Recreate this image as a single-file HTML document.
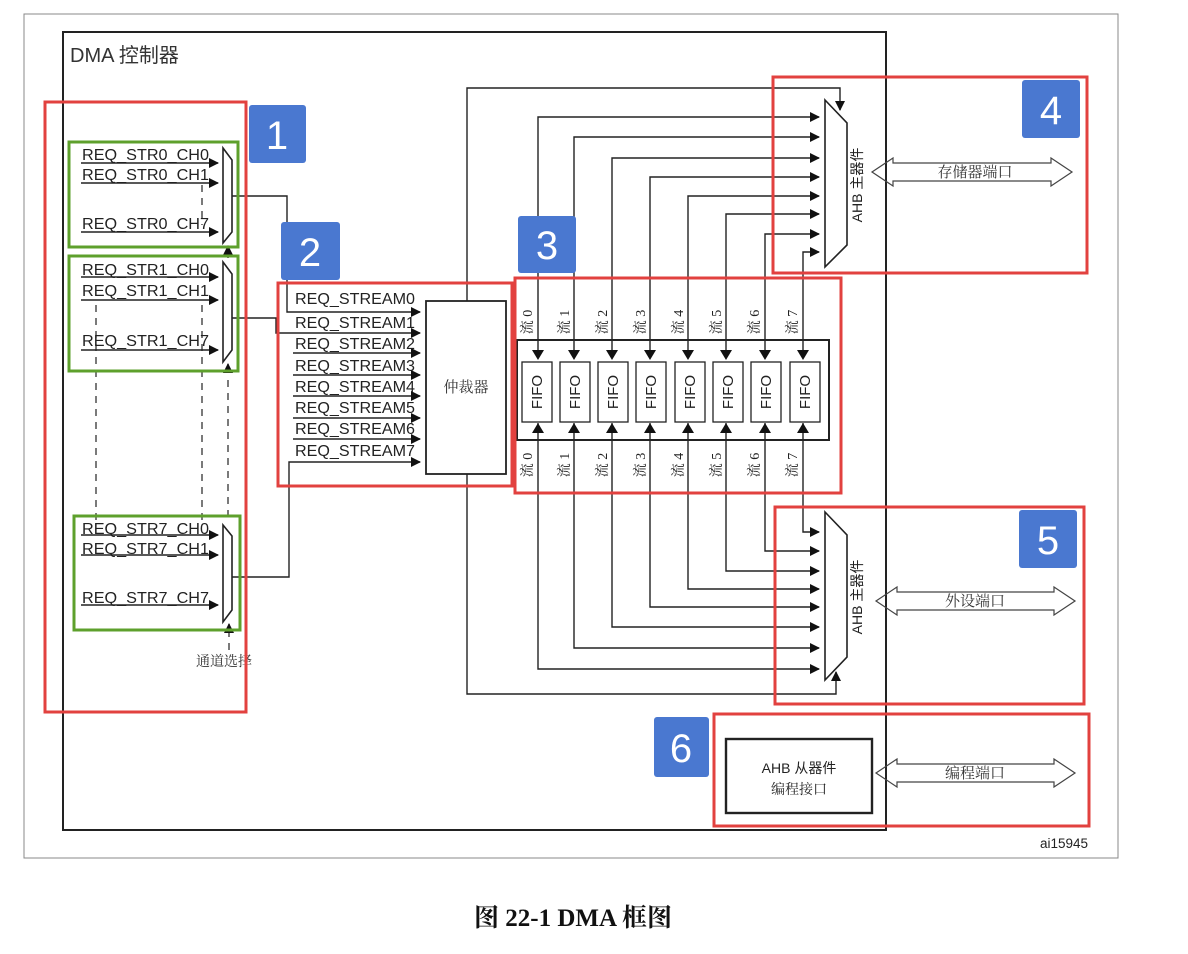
<!DOCTYPE html>
<html><head><meta charset="utf-8"><style>
html,body{margin:0;padding:0;background:#fff;}
svg{display:block;}
text{font-family:"Liberation Sans","Noto Sans CJK SC",sans-serif;}
.cn{font-family:"Liberation Serif","Noto Serif CJK SC",serif;}
</style></head><body>
<svg width="1188" height="954" viewBox="0 0 1188 954" xmlns="http://www.w3.org/2000/svg">
<defs>
<marker id="a" markerWidth="10" markerHeight="10" refX="9" refY="5" orient="auto" markerUnits="userSpaceOnUse"><path d="M0,0 L10,5 L0,10 z" fill="#111"/></marker>
</defs>
<rect x="24" y="14" width="1094" height="844" fill="none" stroke="#888" stroke-width="1"/>
<rect x="63" y="32" width="823" height="798" fill="none" stroke="#222" stroke-width="2"/>
<text x="70" y="62" font-size="20" fill="#333">DMA 控制器</text>

<g stroke="#222" stroke-width="1.4" fill="none">
<line x1="81" y1="163" x2="218" y2="163" marker-end="url(#a)"/>
<line x1="81" y1="183" x2="218" y2="183" marker-end="url(#a)"/>
<line x1="81" y1="232" x2="218" y2="232" marker-end="url(#a)"/>
<path d="M223,148 L232,160 L232,232 L223,243 z" stroke-width="1.6"/>
<polyline points="232,196 287,196 287,312 420,312" marker-end="url(#a)"/>
<line x1="81" y1="277" x2="218" y2="277" marker-end="url(#a)"/>
<line x1="81" y1="300" x2="218" y2="300" marker-end="url(#a)"/>
<line x1="81" y1="350" x2="218" y2="350" marker-end="url(#a)"/>
<path d="M223,262 L232,274 L232,350 L223,362 z" stroke-width="1.6"/>
<polyline points="232,318 276,318 276,333 420,333" marker-end="url(#a)"/>
<line x1="81" y1="535" x2="218" y2="535" marker-end="url(#a)"/>
<line x1="81" y1="555" x2="218" y2="555" marker-end="url(#a)"/>
<line x1="81" y1="605" x2="218" y2="605" marker-end="url(#a)"/>
<path d="M223,525 L232,536 L232,610 L223,622 z" stroke-width="1.6"/>
<polyline points="232,577 289,577 289,462 420,462" marker-end="url(#a)"/>
<g stroke-dasharray="7,6" stroke-width="1.2">
<line x1="202" y1="185" x2="202" y2="225"/>
<line x1="96" y1="305" x2="96" y2="520"/>
<line x1="202" y1="305" x2="202" y2="520"/>
<line x1="228" y1="380" x2="228" y2="520"/>
<line x1="229" y1="630" x2="229" y2="650"/>
</g>
<line x1="228" y1="258" x2="228" y2="246" marker-end="url(#a)"/>
<line x1="228" y1="372" x2="228" y2="364" marker-end="url(#a)"/>
<line x1="229" y1="632" x2="229" y2="624" marker-end="url(#a)"/>
<line x1="293" y1="353" x2="420" y2="353" marker-end="url(#a)"/>
<line x1="293" y1="375" x2="420" y2="375" marker-end="url(#a)"/>
<line x1="293" y1="396" x2="420" y2="396" marker-end="url(#a)"/>
<line x1="293" y1="418" x2="420" y2="418" marker-end="url(#a)"/>
<line x1="293" y1="439" x2="420" y2="439" marker-end="url(#a)"/>
<rect x="426" y="301" width="80" height="173" stroke-width="1.8"/>
<polyline points="467,301 467,88 840,88 840,110" marker-end="url(#a)"/>
<polyline points="467,474 467,694 836,694 836,672" marker-end="url(#a)"/>
<rect x="517" y="340" width="312" height="100" stroke-width="2"/>
<path d="M825,100 L847,123 L847,245 L825,267 z" stroke-width="1.6"/>
<path d="M825,512 L847,535 L847,657 L825,680 z" stroke-width="1.6"/>
<rect x="726" y="739" width="146" height="74" stroke-width="2.4"/>
</g>

<g stroke="#222" stroke-width="1.4" fill="none">
<polyline points="538,358 538,117 819,117" marker-end="url(#a)"/>
<polyline points="574,358 574,137 819,137" marker-end="url(#a)"/>
<polyline points="612,358 612,158 819,158" marker-end="url(#a)"/>
<polyline points="650,358 650,177 819,177" marker-end="url(#a)"/>
<polyline points="688,358 688,196 819,196" marker-end="url(#a)"/>
<polyline points="726,358 726,214 819,214" marker-end="url(#a)"/>
<polyline points="765,358 765,234 819,234" marker-end="url(#a)"/>
<polyline points="803,358 803,252 819,252" marker-end="url(#a)"/>
<polyline points="538,423 538,669 819,669" marker-end="url(#a)"/>
<polyline points="574,423 574,648 819,648" marker-end="url(#a)"/>
<polyline points="612,423 612,627 819,627" marker-end="url(#a)"/>
<polyline points="650,423 650,607 819,607" marker-end="url(#a)"/>
<polyline points="688,423 688,589 819,589" marker-end="url(#a)"/>
<polyline points="726,423 726,571 819,571" marker-end="url(#a)"/>
<polyline points="765,423 765,551 819,551" marker-end="url(#a)"/>
<polyline points="803,423 803,532 819,532" marker-end="url(#a)"/>
</g>
<g fill="#111">
<path d="M532,350 L544,350 L538,360 z"/><path d="M568,350 L580,350 L574,360 z"/><path d="M606,350 L618,350 L612,360 z"/><path d="M644,350 L656,350 L650,360 z"/><path d="M682,350 L694,350 L688,360 z"/><path d="M720,350 L732,350 L726,360 z"/><path d="M759,350 L771,350 L765,360 z"/><path d="M797,350 L809,350 L803,360 z"/>
<path d="M532,433 L544,433 L538,423 z"/><path d="M568,433 L580,433 L574,423 z"/><path d="M606,433 L618,433 L612,423 z"/><path d="M644,433 L656,433 L650,423 z"/><path d="M682,433 L694,433 L688,423 z"/><path d="M720,433 L732,433 L726,423 z"/><path d="M759,433 L771,433 L765,423 z"/><path d="M797,433 L809,433 L803,423 z"/>
</g>
<g fill="#fff" stroke="#222" stroke-width="1.3">
<rect x="522" y="362" width="30" height="60"/><rect x="560" y="362" width="30" height="60"/><rect x="598" y="362" width="30" height="60"/><rect x="636" y="362" width="30" height="60"/><rect x="675" y="362" width="30" height="60"/><rect x="713" y="362" width="30" height="60"/><rect x="751" y="362" width="30" height="60"/><rect x="790" y="362" width="30" height="60"/>
</g>
<g font-size="15" fill="#222" text-anchor="middle">
<text transform="translate(542,392) rotate(-90)">FIFO</text>
<text transform="translate(580,392) rotate(-90)">FIFO</text>
<text transform="translate(618,392) rotate(-90)">FIFO</text>
<text transform="translate(656,392) rotate(-90)">FIFO</text>
<text transform="translate(695,392) rotate(-90)">FIFO</text>
<text transform="translate(733,392) rotate(-90)">FIFO</text>
<text transform="translate(771,392) rotate(-90)">FIFO</text>
<text transform="translate(810,392) rotate(-90)">FIFO</text>
</g>
<g font-size="14" fill="#222" text-anchor="middle">
<text class="cn" transform="translate(532,322) rotate(-90)">流 0</text>
<text class="cn" transform="translate(569,322) rotate(-90)">流 1</text>
<text class="cn" transform="translate(607,322) rotate(-90)">流 2</text>
<text class="cn" transform="translate(645,322) rotate(-90)">流 3</text>
<text class="cn" transform="translate(683,322) rotate(-90)">流 4</text>
<text class="cn" transform="translate(721,322) rotate(-90)">流 5</text>
<text class="cn" transform="translate(759,322) rotate(-90)">流 6</text>
<text class="cn" transform="translate(797,322) rotate(-90)">流 7</text>
<text class="cn" transform="translate(532,465) rotate(-90)">流 0</text>
<text class="cn" transform="translate(569,465) rotate(-90)">流 1</text>
<text class="cn" transform="translate(607,465) rotate(-90)">流 2</text>
<text class="cn" transform="translate(645,465) rotate(-90)">流 3</text>
<text class="cn" transform="translate(683,465) rotate(-90)">流 4</text>
<text class="cn" transform="translate(721,465) rotate(-90)">流 5</text>
<text class="cn" transform="translate(759,465) rotate(-90)">流 6</text>
<text class="cn" transform="translate(797,465) rotate(-90)">流 7</text>
</g>

<g font-size="15.5" fill="#222">
<text x="82" y="160" textLength="127" lengthAdjust="spacingAndGlyphs">REQ_STR0_CH0</text>
<text x="82" y="180" textLength="127" lengthAdjust="spacingAndGlyphs">REQ_STR0_CH1</text>
<text x="82" y="229" textLength="127" lengthAdjust="spacingAndGlyphs">REQ_STR0_CH7</text>
<text x="82" y="275" textLength="127" lengthAdjust="spacingAndGlyphs">REQ_STR1_CH0</text>
<text x="82" y="296" textLength="127" lengthAdjust="spacingAndGlyphs">REQ_STR1_CH1</text>
<text x="82" y="346" textLength="127" lengthAdjust="spacingAndGlyphs">REQ_STR1_CH7</text>
<text x="82" y="534" textLength="127" lengthAdjust="spacingAndGlyphs">REQ_STR7_CH0</text>
<text x="82" y="554" textLength="127" lengthAdjust="spacingAndGlyphs">REQ_STR7_CH1</text>
<text x="82" y="603" textLength="127" lengthAdjust="spacingAndGlyphs">REQ_STR7_CH7</text>
<text x="295" y="304" textLength="120" lengthAdjust="spacingAndGlyphs">REQ_STREAM0</text>
<text x="295" y="328" textLength="120" lengthAdjust="spacingAndGlyphs">REQ_STREAM1</text>
<text x="295" y="349" textLength="120" lengthAdjust="spacingAndGlyphs">REQ_STREAM2</text>
<text x="295" y="371" textLength="120" lengthAdjust="spacingAndGlyphs">REQ_STREAM3</text>
<text x="295" y="392" textLength="120" lengthAdjust="spacingAndGlyphs">REQ_STREAM4</text>
<text x="295" y="413" textLength="120" lengthAdjust="spacingAndGlyphs">REQ_STREAM5</text>
<text x="295" y="434" textLength="120" lengthAdjust="spacingAndGlyphs">REQ_STREAM6</text>
<text x="295" y="456" textLength="120" lengthAdjust="spacingAndGlyphs">REQ_STREAM7</text>
</g>
<text class="cn" x="196" y="666" font-size="14" fill="#333">通道选择</text>
<text class="cn" x="466" y="392" font-size="15" fill="#333" text-anchor="middle">仲裁器</text>
<text transform="translate(862,185) rotate(-90)" font-size="14" fill="#222" text-anchor="middle">AHB 主器件</text>
<text transform="translate(862,597) rotate(-90)" font-size="14" fill="#222" text-anchor="middle">AHB 主器件</text>
<text x="799" y="773" font-size="14" fill="#222" text-anchor="middle">AHB 从器件</text>
<text class="cn" x="799" y="794" font-size="14" fill="#222" text-anchor="middle">编程接口</text>

<g fill="none" stroke="#444" stroke-width="1.2">
<path d="M872,172 L893,158 L893,163 L1051,163 L1051,158 L1072,172 L1051,186 L1051,181 L893,181 L893,186 z"/>
<path d="M876,601 L897,587 L897,592 L1054,592 L1054,587 L1075,601 L1054,615 L1054,610 L897,610 L897,615 z"/>
<path d="M876,773 L897,759 L897,764 L1054,764 L1054,759 L1075,773 L1054,787 L1054,782 L897,782 L897,787 z"/>
</g>
<g font-size="15" fill="#333" text-anchor="middle">
<text class="cn" x="975" y="177">存储器端口</text>
<text class="cn" x="975" y="606">外设端口</text>
<text class="cn" x="975" y="778">编程端口</text>
</g>
<text x="1088" y="848" font-size="13.5" fill="#222" text-anchor="end">ai15945</text>

<g fill="none" stroke="#5ea02c" stroke-width="3">
<rect x="69" y="142" width="169" height="105"/>
<rect x="69" y="256" width="169" height="115"/>
<rect x="74" y="516" width="166" height="114"/>
</g>
<g fill="none" stroke="#e2413f" stroke-width="3">
<rect x="45" y="102" width="201" height="610"/>
<rect x="278" y="283" width="234" height="203"/>
<rect x="515" y="278" width="326" height="215"/>
<rect x="773" y="77" width="314" height="196"/>
<rect x="775" y="507" width="309" height="197"/>
<rect x="714" y="714" width="375" height="112"/>
</g>
<g fill="#4a78d0">
<rect x="249" y="105" width="57" height="58" rx="3"/>
<rect x="281" y="222" width="59" height="58" rx="3"/>
<rect x="518" y="216" width="58" height="57" rx="3"/>
<rect x="1022" y="80" width="58" height="58" rx="3"/>
<rect x="1019" y="510" width="58" height="58" rx="3"/>
<rect x="654" y="717" width="55" height="60" rx="3"/>
</g>
<g font-size="40" fill="#fff" text-anchor="middle">
<text x="277" y="149">1</text>
<text x="310" y="266">2</text>
<text x="547" y="259">3</text>
<text x="1051" y="124">4</text>
<text x="1048" y="554">5</text>
<text x="681" y="762">6</text>
</g>
<text class="cn" x="573" y="926" font-size="25" font-weight="bold" fill="#111" text-anchor="middle">图 22-1 DMA 框图</text>
</svg>
</body></html>
